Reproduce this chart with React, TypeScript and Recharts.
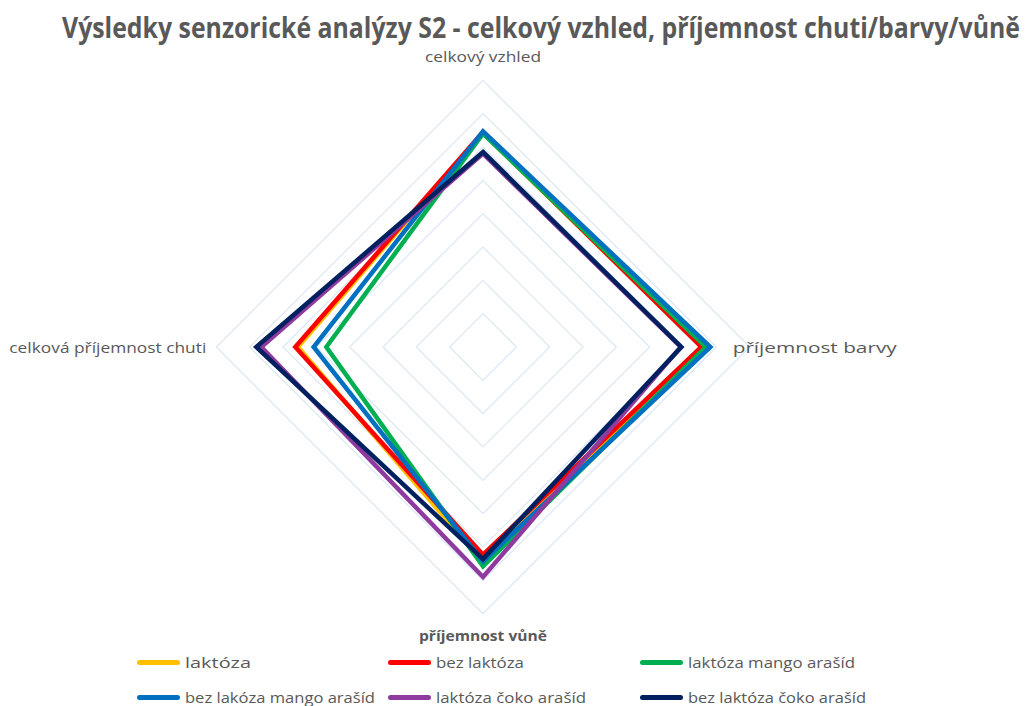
import React from "react";
import {
  RadarChart,
  Radar,
  PolarGrid,
  PolarAngleAxis,
  PolarRadiusAxis,
  Legend,
} from "recharts";

// axis categories (clockwise from the top)
const criteria = [
  "celkový vzhled",
  "příjemnost barvy",
  "příjemnost vůně",
  "celková příjemnost chuti",
];

// scores (scale 0–8, one ring per point)
const laktoza = [6.42, 6.58, 6.45, 5.55];
const bezLaktoza = [6.45, 6.55, 6.23, 5.63];
const laktozaMango = [6.4, 6.68, 6.58, 4.7];
const bezLakozaMango = [6.47, 6.82, 6.43, 5.08];
const laktozaCoko = [5.8, 5.93, 6.9, 6.65];
const bezLaktozaCoko = [5.85, 5.95, 6.36, 6.8];

const seriesNames = [
  "laktóza",
  "bez laktóza",
  "laktóza mango arašíd",
  "bez lakóza mango arašíd",
  "laktóza čoko arašíd",
  "bez laktóza čoko arašíd",
];
const seriesValues = [
  laktoza,
  bezLaktoza,
  laktozaMango,
  bezLakozaMango,
  laktozaCoko,
  bezLaktozaCoko,
];
const colors = ["#FFC000", "#FF0000", "#00B050", "#0070C0", "#8E3A9E", "#002060"];

const radiusTicks = [0, 1, 2, 3, 4, 5, 6, 7, 8];

const chartData = criteria.map((c, i) => {
  const row: any = { criterion: c };
  seriesNames.forEach((name, s) => {
    row[name] = seriesValues[s][i];
  });
  return row;
});

const CX = 483;
const CY = 347;
const R = 266.7;
const TEXT = "#595959";
const FONT = "'Open Sans', 'Noto Sans', sans-serif";

// where each category label sits relative to its outer grid vertex
const labelPlace = [
  { dx: 0, dy: -24, anchor: "middle", len: 116, bold: false },
  { dx: -17, dy: 0, anchor: "start", len: 164, bold: false },
  { dx: 0, dy: 22, anchor: "middle", len: 128, bold: true },
  { dx: -10, dy: 0, anchor: "end", len: 197, bold: false },
];

const AngleTick = (props: any) => {
  const { payload, index } = props;
  const ang = Math.PI / 2 - index * (Math.PI / 2);
  const x = CX + R * Math.cos(ang);
  const y = CY - R * Math.sin(ang);
  const p = labelPlace[index];
  return (
    <text
      x={x + p.dx}
      y={y + p.dy}
      textAnchor={p.anchor}
      dominantBaseline="central"
      fill={TEXT}
      fontFamily={FONT}
      fontSize={14}
      fontWeight={p.bold ? 700 : 400}
      textLength={p.len}
      lengthAdjust="spacingAndGlyphs"
    >
      {payload.value}
    </text>
  );
};

const legendCols = [137, 388, 640];
const legendRows = [662, 697];
const legendTextLen = [66, 88, 167, 190, 150, 178];

// legend in series order (recharts reorders its payload)
const LegendBox = () => (
  <div style={{ position: "relative", width: 1027, height: 61 }}>
    {seriesNames.map((name, i) => {
      const left = legendCols[i % 3];
      const top = legendRows[Math.floor(i / 3)] - 645;
      return (
        <div key={name} style={{ position: "absolute", left, top: top - 10, width: 260, height: 20 }}>
          <div
            style={{
              position: "absolute",
              left: 0,
              top: 8,
              width: 43,
              height: 5,
              borderRadius: 3,
              background: colors[i],
            }}
          />
          <svg style={{ position: "absolute", left: 48, top: -1 }} width={210} height={22}>
            <text
              x={0}
              y={11}
              dominantBaseline="central"
              fill={TEXT}
              fontFamily={FONT}
              fontSize={15}
              textLength={legendTextLen[i]}
              lengthAdjust="spacingAndGlyphs"
            >
              {name}
            </text>
          </svg>
        </div>
      );
    })}
  </div>
);

export default function App() {
  return (
    <div
      style={{
        position: "absolute",
        left: 0,
        top: 0,
        width: 1027,
        height: 706,
        background: "#fff",
        overflow: "hidden",
      }}
    >
      <svg width={1027} height={52} style={{ position: "absolute", left: 0, top: 0 }}>
        <text
          x={62}
          y={38}
          fill={TEXT}
          fontFamily={FONT}
          fontWeight={700}
          fontSize={28}
          textLength={958}
          lengthAdjust="spacingAndGlyphs"
        >
          Výsledky senzorické analýzy S2 - celkový vzhled, příjemnost chuti/barvy/vůně
        </text>
      </svg>
      <RadarChart
        width={1027}
        height={706}
        data={chartData}
        cx={CX}
        cy={CY}
        outerRadius={R}
        margin={{ top: 0, right: 0, bottom: 0, left: 0 }}
      >
        <PolarGrid gridType="polygon" radialLines={false} stroke="#dce7f4" strokeWidth={1.2} />
        <PolarRadiusAxis
          domain={[0, 8]}
          ticks={radiusTicks as any}
          tickCount={9}
          axisLine={false}
          tick={false}
        />
        <PolarAngleAxis dataKey="criterion" tick={AngleTick} tickLine={false} axisLine={false} />
        {seriesNames.map((name, i) => (
          <Radar
            key={name}
            name={name}
            dataKey={name}
            stroke={colors[i]}
            strokeWidth={4.5}
            fill="none"
            fillOpacity={0}
            dot={false}
            isAnimationActive={false}
          />
        ))}
        <Legend
          content={LegendBox}
          wrapperStyle={{ position: "absolute", left: 0, top: 645, width: 1027 }}
        />
      </RadarChart>
    </div>
  );
}
